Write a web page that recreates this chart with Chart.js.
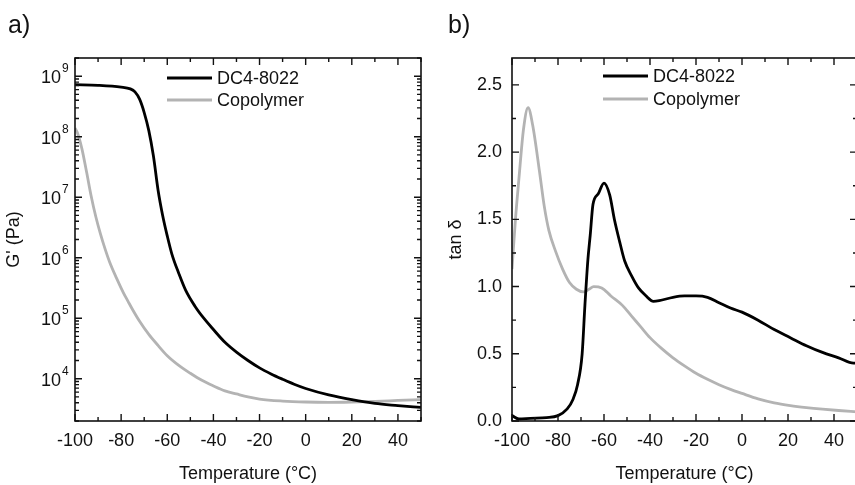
<!DOCTYPE html>
<html>
<head>
<meta charset="utf-8">
<script src="https://cdn.jsdelivr.net/npm/chart.js@4.4.0/dist/chart.umd.min.js"></script>
<style>
body { margin: 0; width: 855px; height: 485px; overflow: hidden; background: #fff; position: relative; }
.panel { position: absolute; top: 0; width: 430px; height: 485px; }
</style>
</head>
<body>
<div class="panel" style="left:0"><canvas id="graphA"></canvas></div>
<div class="panel" style="left:430px"><canvas id="graphB"></canvas></div>
<script>
// a) module G' (Pa), échelle log
const tempDcA = [-100, -90, -80, -76, -74, -72, -70, -68, -66, -64, -62, -60, -58, -55, -52, -48, -44, -40, -35, -30, -25, -20, -15, -10, -5, 0, 10, 20, 30, 40, 50];
const gDcA = [7.24e8, 7.08e8, 6.61e8, 6.17e8, 5.5e8, 4.17e8, 2.51e8, 1.26e8, 4.79e7, 1.32e7, 5.0e6, 2.29e6, 1.15e6, 5.5e5, 2.88e5, 1.58e5, 9.8e4, 6.5e4, 4.0e4, 2.75e4, 2.0e4, 1.51e4, 1.2e4, 9.8e3, 8.1e3, 6.9e3, 5.4e3, 4.5e3, 3.9e3, 3.6e3, 3.35e3];
const tempCoA = [-100, -99, -97, -95, -93, -91, -89, -87, -85, -82, -79, -77, -75, -72, -68, -64, -60, -55, -50, -45, -40, -35, -30, -25, -20, -10, 0, 10, 20, 30, 40, 50];
const gCoA = [1.38e8, 1.17e8, 6.3e7, 2.63e7, 1.05e7, 4.8e6, 2.5e6, 1.41e6, 8.5e5, 4.6e5, 2.63e5, 1.9e5, 1.38e5, 8.9e4, 5.4e4, 3.55e4, 2.4e4, 1.66e4, 1.23e4, 9.4e3, 7.6e3, 6.3e3, 5.6e3, 5.0e3, 4.6e3, 4.27e3, 4.12e3, 4.07e3, 4.12e3, 4.22e3, 4.37e3, 4.52e3];

// b) tan delta
const tempDcB = [-100, -97, -92, -85, -80, -76, -73.5, -71.5, -69.5, -68.3, -67, -66, -64.8, -62.5, -60, -57.5, -55.5, -53, -51, -48, -45, -42, -38.5, -36, -30, -25, -20, -15, -10, -5, 0, 7, 14, 21, 28, 35, 42, 48.5, 50];
const tanDcB = [0.04, 0.015, 0.02, 0.025, 0.04, 0.09, 0.16, 0.27, 0.50, 0.86, 1.20, 1.38, 1.61, 1.69, 1.77, 1.68, 1.50, 1.32, 1.19, 1.08, 0.99, 0.935, 0.89, 0.895, 0.92, 0.93, 0.93, 0.92, 0.88, 0.84, 0.81, 0.75, 0.68, 0.62, 0.56, 0.51, 0.47, 0.43, 0.43];
const tempCoB = [-100, -98.5, -97, -95, -93, -91, -88, -86, -84, -81, -78, -75, -72, -69, -66.5, -64.5, -61, -57, -52, -48, -44, -40, -35, -30, -25, -20, -15, -10, -5, 0, 7, 14, 21, 28, 35, 42, 50];
const tanCoB = [1.13, 1.50, 1.80, 2.17, 2.33, 2.20, 1.85, 1.60, 1.42, 1.26, 1.13, 1.03, 0.98, 0.96, 0.98, 1.00, 0.99, 0.93, 0.86, 0.78, 0.70, 0.62, 0.54, 0.47, 0.41, 0.355, 0.31, 0.27, 0.235, 0.205, 0.165, 0.135, 0.115, 0.10, 0.088, 0.078, 0.068];

const nomsSeries = ["DC4-8022", "Copolymer"];
const xTicks = [-100, -80, -60, -40, -20, 0, 20, 40];
const logExposants = [4, 5, 6, 7, 8, 9];
const tanTicks = [0, 0.5, 1.0, 1.5, 2.0, 2.5];

const NOIR = "#000000";
const GRIS = "#b3b3b3";
const POLICE = "Arial, 'Liberation Sans', sans-serif";

function points(xs, ys) {
    return xs.map((t, i) => ({ x: t, y: ys[i] }));
}

function serie(label, xs, ys, couleur) {
    return {
        label: label,
        data: points(xs, ys),
        borderColor: couleur,
        borderWidth: 2.8,
        pointRadius: 0,
        cubicInterpolationMode: "monotone"
    };
}

// cadre, graduations vers l'intérieur, légende et lettre du panneau
function cadre(opts) {
    return {
        id: "cadre",
        afterDraw(chart) {
            const ctx = chart.ctx;
            const a = chart.chartArea;
            const sx = chart.scales.x, sy = chart.scales.y;
            ctx.save();
            ctx.strokeStyle = "#111";
            ctx.lineWidth = 1.6;
            ctx.strokeRect(a.left, a.top, a.right - a.left, a.bottom - a.top);

            ctx.lineWidth = 1.4;
            ctx.beginPath();
            for (let v = -100; v <= 50; v += 10) {
                const px = sx.getPixelForValue(v);
                const len = (v % 20 === 0) ? 7 : 4;
                ctx.moveTo(px, a.bottom); ctx.lineTo(px, a.bottom - len);
                ctx.moveTo(px, a.top); ctx.lineTo(px, a.top + len);
            }
            opts.yMarques.forEach(m => {
                const py = sy.getPixelForValue(m.v);
                if (py < a.top - 0.5 || py > a.bottom + 0.5) return;
                const len = m.major ? 7 : 4;
                ctx.moveTo(a.left, py); ctx.lineTo(a.left + len, py);
                ctx.moveTo(a.right, py); ctx.lineTo(a.right - len, py);
            });
            ctx.stroke();

            ctx.fillStyle = "#111";
            if (opts.log) {
                logExposants.forEach(e => {
                    const py = sy.getPixelForValue(Math.pow(10, e));
                    ctx.font = "18px " + POLICE;
                    ctx.textAlign = "right";
                    ctx.textBaseline = "middle";
                    ctx.fillText("10", a.left - 14, py + 2);
                    ctx.font = "12px " + POLICE;
                    ctx.textAlign = "left";
                    ctx.textBaseline = "alphabetic";
                    ctx.fillText(String(e), a.left - 13, py - 4);
                });
            }

            // légende
            ctx.font = "18px " + POLICE;
            ctx.textAlign = "left";
            ctx.textBaseline = "middle";
            chart.data.datasets.forEach((ds, i) => {
                const ly = opts.legY[i];
                ctx.strokeStyle = ds.borderColor;
                ctx.lineWidth = 3;
                ctx.beginPath();
                ctx.moveTo(opts.legX, ly);
                ctx.lineTo(opts.legX + 45, ly);
                ctx.stroke();
                ctx.fillStyle = "#111";
                ctx.fillText(ds.label, opts.legX + 50, ly + 1);
            });

            ctx.font = "25px " + POLICE;
            ctx.textBaseline = "alphabetic";
            ctx.fillText(opts.lettre, opts.lettreX, 33);
            ctx.restore();
        }
    };
}

function axeX() {
    return {
        type: "linear",
        min: -100,
        max: 50,
        afterFit: s => { s.height = 64; },
        afterBuildTicks: s => { s.ticks = xTicks.map(v => ({ value: v })); },
        grid: { display: false, drawTicks: false },
        border: { display: false },
        ticks: {
            color: "#111",
            font: { size: 18, family: POLICE },
            padding: 9,
            maxRotation: 0,
            autoSkip: false
        },
        title: {
            display: true,
            text: "Temperature (°C)",
            color: "#111",
            font: { size: 18, family: POLICE },
            padding: { top: 0, bottom: 0 }
        }
    };
}

// marques de l'axe log
const marquesLog = [];
for (let e = 3; e <= 9; e++) {
    for (let k = 1; k <= 9; k++) {
        marquesLog.push({ v: k * Math.pow(10, e), major: k === 1 });
    }
}
const marquesTan = [];
for (let v = 0; v <= 2.75; v += 0.25) {
    marquesTan.push({ v: Math.round(v * 100) / 100, major: Math.round(v * 100) % 50 === 0 });
}

new Chart(document.getElementById("graphA").getContext("2d"), {
    type: "line",
    data: {
        datasets: [
            serie(nomsSeries[0], tempDcA, gDcA, NOIR),
            serie(nomsSeries[1], tempCoA, gCoA, GRIS)
        ]
    },
    options: {
        responsive: true,
        maintainAspectRatio: false,
        animation: false,
        layout: { padding: { top: 58, right: 9, left: 0, bottom: 0 } },
        plugins: { legend: { display: false }, tooltip: { enabled: false } },
        scales: {
            x: axeX(),
            y: {
                type: "logarithmic",
                min: 2e3,
                max: 2e9,
                afterFit: s => { s.width = 75; },
                grid: { display: false, drawTicks: false },
                border: { display: false },
                ticks: { display: false },
                title: {
                    display: true,
                    text: "G' (Pa)",
                    color: "#111",
                    font: { size: 18, family: POLICE },
                    padding: { top: 3, bottom: 0 }
                }
            }
        }
    },
    plugins: [cadre({ yMarques: marquesLog, log: true, legX: 167, legY: [78, 100], lettre: "a)", lettreX: 8 })]
});

new Chart(document.getElementById("graphB").getContext("2d"), {
    type: "line",
    data: {
        datasets: [
            serie(nomsSeries[0], tempDcB, tanDcB, NOIR),
            serie(nomsSeries[1], tempCoB, tanCoB, GRIS)
        ]
    },
    options: {
        responsive: true,
        maintainAspectRatio: false,
        animation: false,
        layout: { padding: { top: 58, right: 3, left: 0, bottom: 0 } },
        plugins: { legend: { display: false }, tooltip: { enabled: false } },
        scales: {
            x: axeX(),
            y: {
                type: "linear",
                min: 0,
                max: 2.7,
                afterFit: s => { s.width = 82; },
                afterBuildTicks: s => { s.ticks = tanTicks.map(v => ({ value: v })); },
                grid: { display: false, drawTicks: false },
                border: { display: false },
                ticks: {
                    color: "#111",
                    font: { size: 18, family: POLICE },
                    padding: 10,
                    callback: v => v.toFixed(1)
                },
                title: {
                    display: true,
                    text: "tan δ",
                    color: "#111",
                    font: { size: 18, family: POLICE },
                    padding: { top: 15, bottom: 0 }
                }
            }
        }
    },
    plugins: [cadre({ yMarques: marquesTan, log: false, legX: 173, legY: [76, 99], lettre: "b)", lettreX: 18 })]
});
</script>
</body>
</html>
